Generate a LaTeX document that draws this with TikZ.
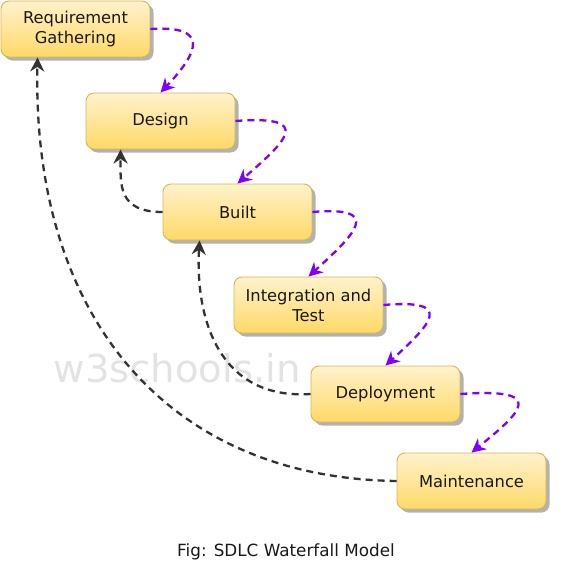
\documentclass[tikz,border=0pt]{standalone}
\usepackage{fontspec}
\setmainfont{DejaVu Sans}
\usetikzlibrary{arrows.meta,shadows,calc}
\definecolor{boxtop}{HTML}{FFF2CC}
\definecolor{boxbot}{HTML}{FFD966}
\definecolor{boxline}{HTML}{D6B656}
\definecolor{fwd}{HTML}{7F00FF}
\definecolor{back}{HTML}{333333}
\definecolor{wm}{HTML}{E3E3E3}
\tikzset{
  phase/.style={draw=boxline, line width=0.9pt, rounded corners=8pt,
    top color=boxtop, bottom color=boxbot, minimum width=149pt, minimum height=56pt,
    inner sep=0pt, align=center, text=black!90,
    font=\fontsize{16.3}{20}\selectfont,
    drop shadow={shadow xshift=3.5pt, shadow yshift=-3.5pt, fill=black!30, opacity=1}},
  fwdarrow/.style={draw=fwd, line width=2.3pt, dash pattern=on 7pt off 5pt,
    -{Stealth[length=14pt,width=14pt,inset=4.5pt]}},
  backarrow/.style={draw=back, line width=2.3pt, dash pattern=on 7pt off 5pt,
    -{Stealth[length=14pt,width=14pt,inset=4.5pt]}},
  caption/.style={font=\fontsize{16.8}{20}\selectfont, text=black!90},
  watermark/.style={font=\fontsize{38.5}{44}\selectfont, text=wm}
}
\begin{document}
\begin{tikzpicture}[x=1pt,y=-1pt]
\useasboundingbox (0,0) rectangle (574,573);
\node[watermark] (wm) at (177,368) {w3schools.in};
\node[phase] (req) at (75.5,29) {Requirement\\Gathering};
\node[phase] (des) at (160.5,121) {Design};
\node[phase] (bui) at (237.5,212) {Built};
\node[phase] (int) at (308.5,305) {Integration and\\Test};
\node[phase] (dep) at (385.5,394) {Deployment};
\node[phase] (mai) at (471.5,481) {Maintenance};
\node[caption] (cap) at (286,552) {Fig: SDLC Waterfall Model};
% forward arrows
\draw[fwdarrow] (req.east) .. controls ($(req.east)+(60,-4)$) and ($(des.north)+(38,-40)$) .. (des.north);
\draw[fwdarrow] (des.east) .. controls ($(des.east)+(80,-6)$) and ($(bui.north)+(48,-42)$) .. (bui.north);
\draw[fwdarrow] (bui.east) .. controls ($(bui.east)+(72,-6)$) and ($(int.north)+(46,-42)$) .. (int.north);
\draw[fwdarrow] (int.east) .. controls ($(int.east)+(72,-6)$) and ($(dep.north)+(46,-42)$) .. (dep.north);
\draw[fwdarrow] (dep.east) .. controls ($(dep.east)+(86,-6)$) and ($(mai.north)+(52,-42)$) .. (mai.north);
% backward arrows
\coordinate (desb) at ($(des.south west)+(35,0)$);
\coordinate (buib) at ($(bui.south west)+(37,0)$);
\coordinate (reqb) at ($(req.south west)+(37,0)$);
\draw[backarrow] (bui.west) .. controls ($(bui.west)+(-45,0)$) and ($(desb)+(0,35)$) .. (desb);
\draw[backarrow] (dep.west) .. controls (220,400) and (195,320) .. (buib);
\draw[backarrow] (mai.west) .. controls (170,478) and (32,320) .. (reqb);
\end{tikzpicture}
\end{document}
